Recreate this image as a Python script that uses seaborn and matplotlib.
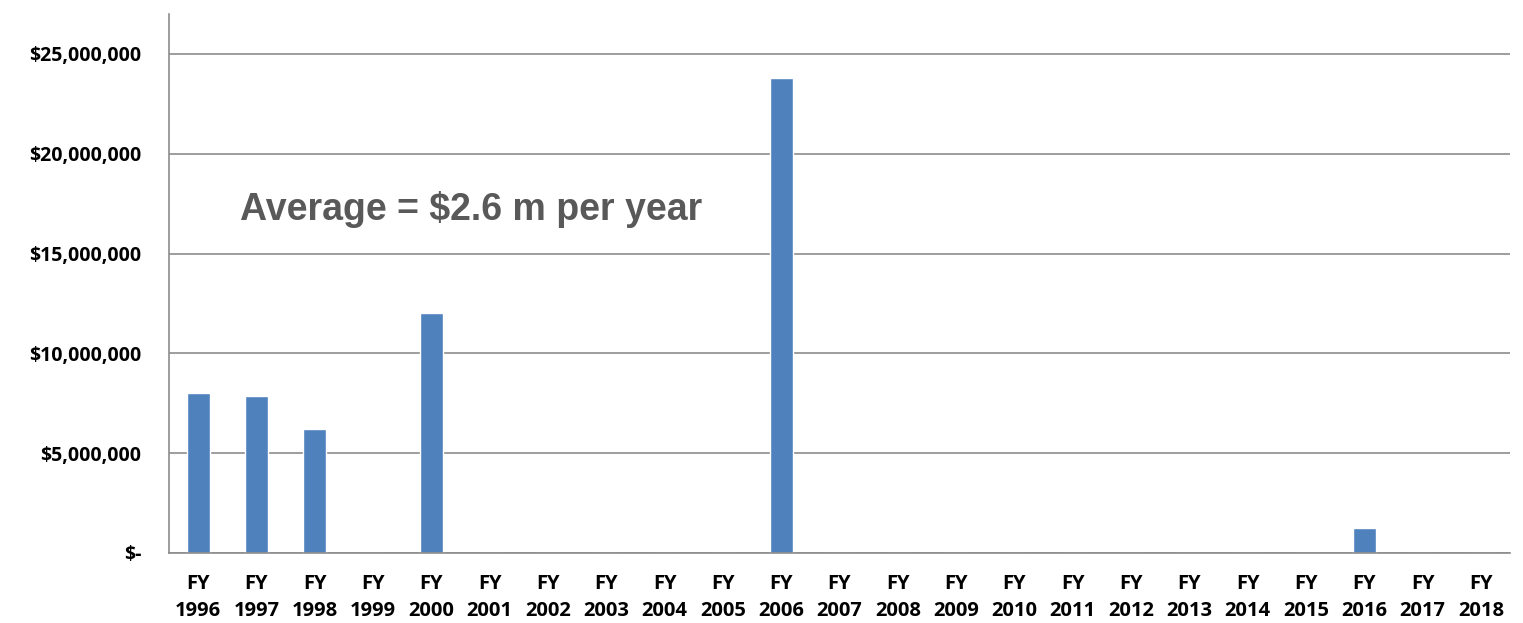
import matplotlib
matplotlib.use("Agg")
import matplotlib.pyplot as plt
from matplotlib.ticker import FuncFormatter, FixedLocator
import seaborn as sns
import pandas as pd

years = list(range(1996, 2019))
labels = [f"FY\n{y}" for y in years]
amounts = [8020000, 7870000, 6210000, 0, 12020000, 0, 0, 0, 0, 0,
           23800000, 0, 0, 0, 0, 0, 0, 0, 0, 0, 1250000, 0, 0]
yticks = [0, 5000000, 10000000, 15000000, 20000000, 25000000]

df = pd.DataFrame({"label": labels, "amount": amounts})

sns.set_style("white")
plt.rcParams["font.family"] = ["Open Sans", "DejaVu Sans"]

fig = plt.figure(figsize=(15.23, 6.23), dpi=100)
ax = fig.add_axes([0.111, 0.1124, 0.8805, 0.8651])

sns.barplot(data=df, x="label", y="amount", color="#4F81BD", width=0.4,
            saturation=1, ax=ax)

ax.set_ylim(0, 27000000)
ax.set_xlim(-0.5, len(labels) - 0.5)
ax.yaxis.set_major_locator(FixedLocator(yticks))
ax.yaxis.set_major_formatter(FuncFormatter(lambda v, p: "$-" if v == 0 else f"${v:,.0f}"))
ax.yaxis.grid(True, color="#8C8C8C", linewidth=1.2)
ax.set_axisbelow(True)

for s in ["top", "right"]:
    ax.spines[s].set_visible(False)
for s in ["left", "bottom"]:
    ax.spines[s].set_color("#8C8C8C")
    ax.spines[s].set_linewidth(1.2)

ax.tick_params(axis="y", length=5, color="#8C8C8C", width=1.2, labelsize=14,
               pad=15, labelcolor="black")
ax.tick_params(axis="x", which="major", length=0, labelsize=14.5, pad=15,
               labelcolor="black")
ax.set_xticks([i + 0.5 for i in range(-1, len(labels))], minor=True)
ax.tick_params(axis="x", which="minor", length=6, color="#8C8C8C", width=1.2)
for t in ax.get_xticklabels() + ax.get_yticklabels():
    t.set_fontweight("bold")
for t in ax.get_xticklabels():
    t.set_linespacing(1.45)

ax.set_xlabel("")
ax.set_ylabel("")

ax.text(0.053, 0.637, "Average = $2.6 m per year", transform=ax.transAxes,
        fontsize=27, fontweight="bold", color="#595959",
        family=["Liberation Sans", "DejaVu Sans"], va="center", ha="left")

fig.savefig("out.png", dpi=100)
